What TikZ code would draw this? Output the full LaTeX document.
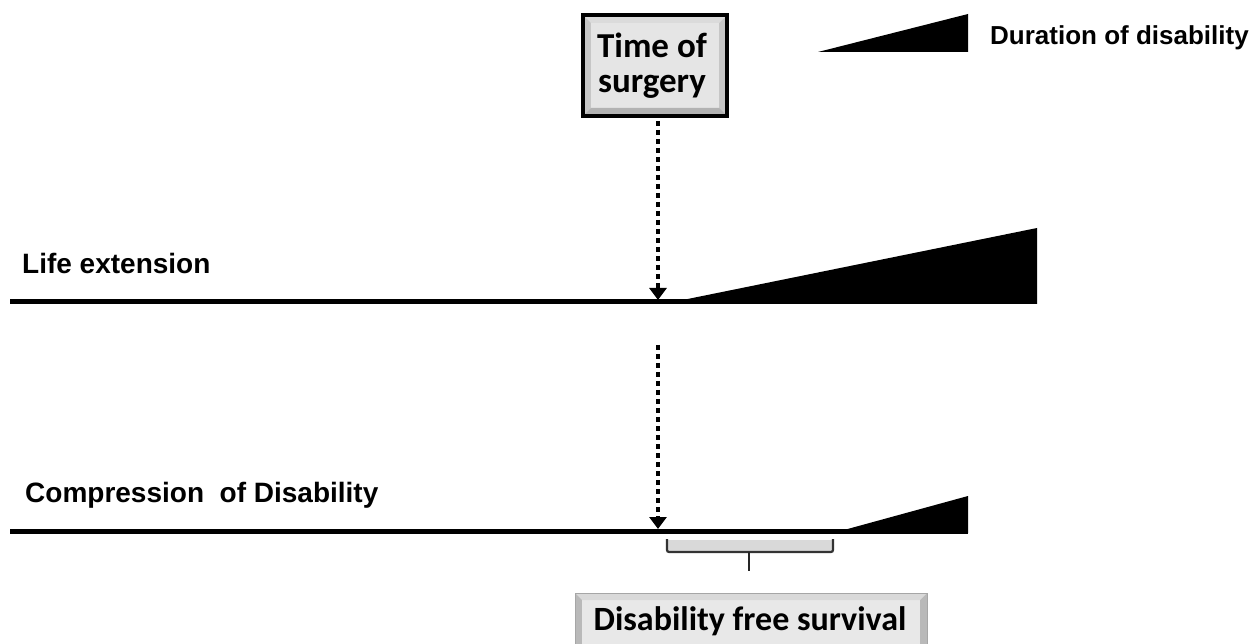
\documentclass[tikz,border=0pt]{standalone}
\usepackage{fontspec}
\setmainfont{Liberation Sans}
\newfontfamily\calib{Carlito}
\usetikzlibrary{arrows.meta}
\tikzset{
  lbl/.style={anchor=west, inner sep=0pt, font=\fontsize{28}{30}\selectfont\bfseries},
  timeline/.style={line width=5pt},
  dotarrow/.style={line width=4.6pt, dash pattern=on 4.6pt off 4.4pt, -{Triangle[width=17pt,length=12pt]}},
  bevelbox/.style={font=\calib\bfseries\fontsize{35}{35}\selectfont, align=center, inner sep=0pt}
}
\begin{document}
\begin{tikzpicture}[x=1pt,y=-1pt]
\useasboundingbox (0,0) rectangle (1251,644);
% legend
\fill (818,52) -- (968,14) -- (968,52) -- cycle;
\node[lbl, font=\fontsize{26}{28}\selectfont\bfseries] (dur) at (990,38) {Duration of disability};
% time of surgery box
\fill[gray!45] (583,15) rectangle (727,116);
\fill[gray!20] (591,23) rectangle (719,108);
\fill[gray!28] (583,15) -- (591,23) -- (719,23) -- (727,15) -- cycle;
\fill[gray!60] (583,116) -- (591,108) -- (719,108) -- (727,116) -- cycle;
\draw[line width=4pt] (583,15) rectangle (727,116);
\node[bevelbox] (surgery) at (652,66) {Time of\\surgery};
\coordinate (sbot) at (658,121);
% life extension
\node[lbl] (life) at (22,263) {Life extension};
\draw[timeline] (10,302) -- (1037,302);
\fill (663,304) -- (1037,228) -- (1037,304) -- cycle;
\coordinate (hit1) at (658,300);
\draw[dotarrow] (sbot) -- (hit1);
% compression
\node[lbl] (comp) at (25,495) {Compression~ of Disability};
\draw[timeline] (10,531) -- (968,531);
\fill (833,533) -- (968,496) -- (968,533) -- cycle;
\coordinate (s2) at (658,345);
\coordinate (hit2) at (658,529);
\draw[dotarrow] (s2) -- (hit2);
% bracket
\fill[gray!30] (667,540) rectangle (833,552);
\draw[line width=2.2pt, black!80, rounded corners=2pt] (667,539) -- (667,552) -- (833,552) -- (833,539);
\coordinate (bmid) at (749,552);
\coordinate (btip) at (749,571);
\draw[line width=2.5pt, black!85] (bmid) -- (btip);
% disability free survival box
\fill[gray!55] (575,593) rectangle (927,660);
\fill[gray!18] (582,600) rectangle (920,660);
\fill[gray!30] (575,593) -- (582,600) -- (920,600) -- (927,593) -- cycle;
\draw[line width=1pt, gray!70] (575,660) -- (575,593) -- (927,593) -- (927,660);
\node[bevelbox, font=\calib\bfseries\fontsize{34}{34}\selectfont] (dfs) at (750,621) {Disability free survival};
\end{tikzpicture}
\end{document}
